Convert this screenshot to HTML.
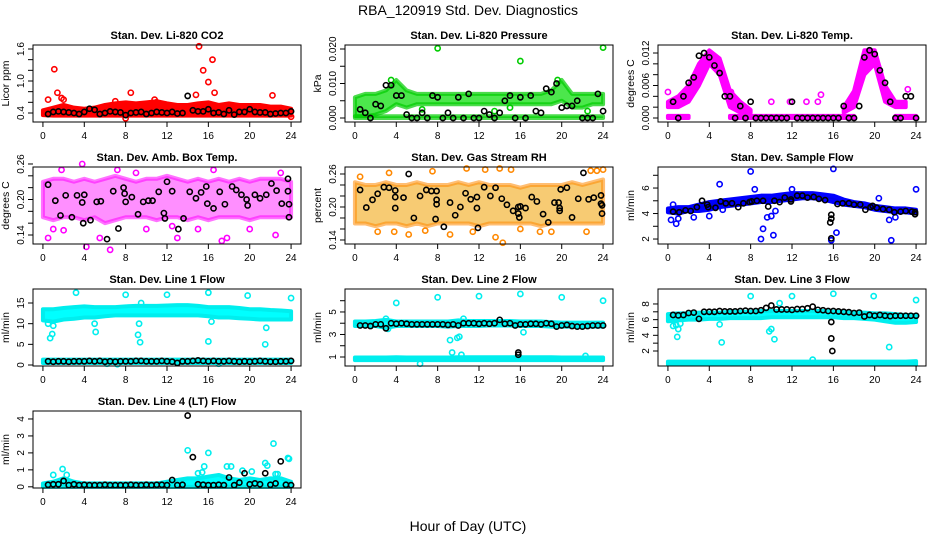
<!DOCTYPE html>
<html><head><meta charset="utf-8">
<style>
html,body{margin:0;padding:0;background:#fff;}
svg{display:block;font-family:"Liberation Sans",sans-serif;}
</style></head>
<body>
<svg id="chart" width="936" height="540" viewBox="0 0 936 540" xmlns="http://www.w3.org/2000/svg">
<rect x="0" y="0" width="936" height="540" fill="#fff"/>
<text x="468" y="15" text-anchor="middle" font-size="14">RBA_120919  Std. Dev. Diagnostics</text>
<text x="468" y="531" text-anchor="middle" font-size="14">Hour of Day (UTC)</text>
</svg>
<script>
const HOURS=[0,1,2,3,4,5,6,7,8,9,10,11,12,13,14,15,16,17,18,19,20,21,22,23,24];
const BH=[0.5,1,1.5,2,2.5,3,3.5,4,4.5,5,5.5,6,6.5,7,7.5,8,8.5,9,9.5,10,10.5,11,11.5,12,12.5,13,13.5,14,14.5,15,15.5,16,16.5,17,17.5,18,18.5,19,19.5,20,20.5,21,21.5,22,22.5,23,23.5,24];
const XTICKS=[0,4,8,12,16,20,24];

// P1 CO2
const co2Lo=[0.36,0.35,0.35,0.35,0.35,0.35,0.35,0.35,0.35,0.35,0.35,0.35,0.35,0.35,0.35,0.35,0.35,0.35,0.35,0.35,0.35,0.35,0.35,0.35,0.35];
const co2Hi=[0.45,0.5,0.55,0.5,0.48,0.5,0.55,0.58,0.6,0.58,0.6,0.62,0.58,0.55,0.55,0.58,0.6,0.55,0.58,0.55,0.55,0.55,0.52,0.52,0.48];
const co2ExX=[0.5,1.1,1.4,1.8,2.0,8.5,10.8,14.8,15.1,15.5,16.0,16.4,16.6,22.2,8.0,24.0,7.0,11.0];
const co2ExY=[0.65,1.22,0.78,0.68,0.65,0.78,0.65,0.74,1.65,1.2,0.98,1.4,0.78,0.73,0.3,0.33,0.62,0.6];
const co2BY=[0.38,0.42,0.43,0.42,0.41,0.40,0.38,0.42,0.48,0.46,0.38,0.40,0.43,0.42,0.41,0.36,0.40,0.41,0.42,0.38,0.40,0.42,0.41,0.40,0.42,0.39,0.40,0.72,0.45,0.43,0.43,0.47,0.40,0.41,0.38,0.45,0.37,0.42,0.42,0.47,0.42,0.41,0.41,0.38,0.39,0.40,0.40,0.43];

// P2 Pressure
const presBaseLo=[0,0,0,0,0,0,0,0,0,0,0,0,0,0,0,0,0,0,0,0,0,0,0,0,0];
const presBaseHi=[0.0005,0.0005,0.0005,0.0005,0.0005,0.0005,0.0005,0.0005,0.0005,0.0005,0.0005,0.0005,0.0005,0.0005,0.0005,0.0005,0.0005,0.0005,0.0005,0.0005,0.0005,0.0005,0.0005,0.0005,0.0005];
const presLo=[0.0005,0.0005,0.001,0.002,0.004,0.003,0.004,0.004,0.004,0.004,0.004,0.004,0.004,0.004,0.004,0.004,0.004,0.004,0.004,0.004,0.005,0.003,0.003,0.004,0.004];
const presHi=[0.006,0.007,0.007,0.008,0.011,0.008,0.007,0.007,0.007,0.007,0.007,0.007,0.007,0.007,0.007,0.007,0.007,0.007,0.007,0.008,0.011,0.007,0.007,0.007,0.007];
const presExX=[8.0,16.0,24.0,3.5,19.6,6.5,13.5,15.0,22.5];
const presExY=[0.0202,0.0165,0.0204,0.011,0.011,0.0025,0.002,0.003,0.002];
const presBY=[0.0025,0.0015,0,0.004,0.0035,0.0095,0.0095,0.0065,0.0065,0.001,0,0,0.0015,0,0.0065,0.006,0,0.0015,0,0.006,0,0.007,0,0,0.002,0.001,0,0.0015,0.005,0.0065,0,0.006,0,0.0065,0.002,0.0015,0.0085,0.0075,0.01,0.003,0.0035,0.0035,0.005,0,0,0,0.007,0.002];

// P3 Li-820 Temp
const tmpBaseLo=[0,0,0,null,null,null,0,0,0,0,0,0,0,0,0,0,0,0,0,null,null,null,0,0,0];
const tmpBaseHi=[0.0004,0.0004,0.0004,null,null,null,0.0004,0.0004,0.0004,0.0004,0.0004,0.0004,0.0004,0.0004,0.0004,0.0004,0.0004,0.0004,0.0004,null,null,null,0.0004,0.0004,0.0004];
const tmpLo=[0.002,0.002,0.003,0.006,0.010,0.008,0.002,0.001,0.001,null,null,null,null,null,null,null,null,0.001,0.002,0.008,0.010,0.003,0.002,0.002,null];
const tmpHi=[0.003,0.004,0.006,0.010,0.0125,0.011,0.005,0.003,0.0015,null,null,null,null,null,null,null,null,0.002,0.005,0.0125,0.0125,0.006,0.003,0.003,null];
const tmpExX=[0.0,23.2,14.8,14.5,10.0,11.8,13.4,6.1];
const tmpExY=[0.0048,0.0053,0.0043,0.003,0.003,0.003,0.003,0.0048];
const tmpBY=[0.003,0,0.004,0.0065,0.0075,0.0115,0.012,0.0112,0.0097,0.0083,0.004,0.004,0,0.0022,0,0.003,0,0,0,0,0,0,0,0.003,0,0,0,0,0,0,0,0,0,0.0022,0,0,0.0022,0.0112,0.0125,0.0118,0.0088,0.0065,0.003,0,0,0.004,0.004,0];

// P4 Amb box temp
const ambLo=[0.17,0.165,0.17,0.17,0.165,0.17,0.16,0.165,0.17,0.17,0.17,0.165,0.17,0.17,0.165,0.17,0.165,0.17,0.17,0.17,0.165,0.17,0.17,0.17,0.17];
const ambHi=[0.23,0.235,0.235,0.23,0.235,0.23,0.235,0.24,0.235,0.23,0.235,0.235,0.24,0.235,0.23,0.235,0.23,0.235,0.23,0.235,0.23,0.235,0.235,0.235,0.23];
const ambExX=[0.5,1.8,4.2,5.5,6.5,7.2,10.0,13.0,15.0,17.3,17.8,16.5,23.0,3.8,1.0,20.0,22.5,2.0,9.0,12.5];
const ambExY=[0.135,0.25,0.12,0.135,0.115,0.25,0.15,0.135,0.15,0.13,0.135,0.25,0.245,0.26,0.15,0.15,0.14,0.148,0.245,0.155];
const ambBX=[0.5,1.2,1.7,2.2,2.8,3.3,3.8,3.9,4.0,4.6,5.2,5.6,6.2,6.8,7.3,7.8,7.9,8.0,8.6,9.2,9.7,10.2,10.6,11.2,11.7,11.8,12.0,12.5,13.1,13.6,14.2,14.8,15.3,15.8,15.9,16.5,17.1,17.6,18.3,18.7,19.2,19.7,19.8,20.5,21.0,21.6,22.1,22.6,23.1,23.7,23.7,23.8,23.8];
const ambBY=[0.225,0.198,0.173,0.207,0.170,0.207,0.195,0.160,0.208,0.165,0.196,0.197,0.133,0.214,0.151,0.220,0.21,0.196,0.204,0.175,0.196,0.198,0.198,0.213,0.177,0.168,0.23,0.214,0.15,0.168,0.213,0.202,0.212,0.222,0.193,0.185,0.213,0.192,0.222,0.216,0.208,0.2,0.19,0.208,0.202,0.208,0.227,0.215,0.193,0.235,0.214,0.192,0.17];

// P5 Gas stream RH
const rhLo=[0.17,0.17,0.165,0.17,0.17,0.165,0.17,0.165,0.17,0.17,0.17,0.17,0.165,0.17,0.17,0.17,0.17,0.17,0.165,0.17,0.17,0.17,0.17,0.17,0.17];
const rhHi=[0.245,0.24,0.24,0.245,0.24,0.24,0.245,0.24,0.24,0.24,0.245,0.24,0.245,0.24,0.24,0.24,0.235,0.24,0.24,0.24,0.24,0.245,0.24,0.245,0.25];
const rhExX=[2.2,3.3,3.8,5.2,7.5,9.2,10.8,11.4,12.6,13.6,14.0,14.3,15.1,16.0,17.9,22.4,22.8,23.4,24.0,0.5,6.8,19.0];
const rhExY=[0.155,0.262,0.155,0.15,0.265,0.15,0.27,0.155,0.268,0.145,0.27,0.135,0.268,0.16,0.155,0.155,0.266,0.266,0.268,0.255,0.157,0.155];
const rhBX=[0.5,1.1,1.7,2.2,2.8,3.3,3.9,3.9,3.9,4.7,5.2,5.7,6.3,6.9,7.4,7.9,7.9,7.9,7.8,8.6,9.2,9.7,10.2,10.7,11.2,11.8,11.8,11.9,12.5,13.1,13.6,14.2,14.7,15.3,15.8,15.8,15.9,16.0,16.5,17.1,17.6,18.2,18.7,19.3,19.7,19.8,19.8,19.9,20.5,21.0,21.6,22.1,22.6,23.1,23.8,23.8,23.9,23.9];
const rhBY=[0.231,0.199,0.213,0.224,0.236,0.235,0.230,0.218,0.198,0.217,0.26,0.18,0.22,0.231,0.229,0.229,0.213,0.205,0.178,0.164,0.208,0.185,0.2,0.225,0.214,0.218,0.198,0.162,0.236,0.22,0.235,0.215,0.204,0.193,0.2,0.188,0.181,0.201,0.198,0.218,0.21,0.187,0.172,0.208,0.208,0.193,0.198,0.232,0.235,0.181,0.215,0.262,0.214,0.217,0.221,0.206,0.203,0.188];

// P6 Sample flow
const sfLo=[4.1,4.0,4.2,4.2,4.3,4.5,4.6,4.7,4.8,4.9,4.9,5.0,5.1,5.2,5.2,5.1,4.9,4.7,4.6,4.5,4.3,4.2,4.1,4.1,4.0];
const sfHi=[4.4,4.5,4.5,4.7,4.9,5.0,5.1,5.2,5.3,5.4,5.4,5.5,5.6,5.6,5.6,5.5,5.4,5.1,4.9,4.8,4.6,4.5,4.4,4.4,4.3];
const sfExX=[0.3,0.8,1.0,2.5,4.0,5.0,5.3,8.0,8.4,9.0,9.2,9.6,10.0,10.2,10.4,12.0,15.8,16.0,16.3,20.4,21.4,21.6,22.0,24.0,0.5];
const sfExY=[3.5,3.2,3.6,3.7,3.8,6.3,4.3,7.3,5.9,2.0,2.8,3.7,3.8,2.3,4.2,5.9,1.9,7.5,2.5,5.2,3.5,1.9,3.7,5.9,4.7];
const sfBX=[0.5,1.1,1.7,2.2,2.8,3.3,3.8,3.9,4.6,5.1,5.6,6.2,6.8,7.3,7.9,8.1,8.6,9.2,9.7,10.3,10.8,11.3,11.9,11.9,12.5,13.0,13.5,14.1,14.6,15.2,15.8,15.8,15.7,15.8,16.4,16.9,17.5,18.0,18.6,19.1,19.6,19.8,20.2,20.8,21.4,21.9,22.5,23.0,23.6,23.9,23.9];
const sfBY=[4.15,4.1,4.25,4.2,4.5,5.0,4.7,4.5,4.45,4.95,4.8,4.8,4.5,4.8,4.9,4.95,5.0,5.0,4.55,5.0,4.9,5.25,5.1,4.95,5.4,5.4,5.25,5.3,5.15,5.05,3.9,3.6,3.3,2.05,4.75,4.8,4.8,4.7,4.7,4.3,4.5,4.6,4.45,4.35,4.3,4.1,4.15,4.2,4.15,4.1,3.95];

// P7 Line 1 flow
const l1Lo=[10.8,10.5,11,11.2,11.5,11.5,11.8,12,12,12,12,12,12,12,12,12,11.8,11.5,11.5,11.3,11.2,11,11,11,11];
const l1Hi=[13.5,13.5,13.8,14,14.2,14,14,14,14.2,14.3,14.3,14.3,14.4,14.5,14.5,14.3,14,14,14,13.8,13.5,13.5,13.3,13.2,13];
const l1BaseLo=[0.5,0.5,0.5,0.5,0.5,0.5,0.5,0.5,0.5,0.5,0.5,0.5,0.5,0.5,0.5,0.5,0.5,0.5,0.5,0.5,0.5,0.5,0.5,0.5,0.5];
const l1BaseHi=[1.3,1.3,1.3,1.3,1.3,1.3,1.3,1.3,1.3,1.3,1.3,1.3,1.3,1.3,1.3,1.3,1.3,1.3,1.3,1.3,1.3,1.3,1.3,1.3,1.3];
const l1ExX=[0.5,0.7,0.9,1.0,3.2,5.0,5.1,8.0,9.2,9.3,9.4,9.5,12.0,16.0,16.0,16.3,19.8,21.5,21.6,24.0,7.2,17.0,6.2];
const l1ExY=[10,6.5,7.5,9.5,17.5,10,8,17,7.3,10,5.5,15,17,17.5,5.7,10.5,16.8,5,9,16.2,0.2,0.3,0.3];
const l1BY=[0.9,0.8,0.9,0.9,0.8,0.9,0.9,0.9,1.0,0.9,1.0,0.8,0.9,0.8,0.9,0.9,0.9,1.0,1.0,0.9,0.9,0.9,1.0,0.9,0.8,0.5,0.9,0.9,1.0,1.1,1.0,0.9,1.0,0.9,0.9,1.0,0.9,0.8,0.9,0.8,0.9,1.0,0.9,0.8,0.8,0.9,0.9,1.0];

// P8 Line 2 flow
const l2Lo=[3.75,3.75,3.75,3.6,3.75,3.75,3.75,3.75,3.75,3.7,3.75,3.75,3.75,3.8,3.8,3.8,3.75,3.75,3.75,3.7,3.7,3.7,3.7,3.7,3.7];
const l2Hi=[4.15,4.15,4.2,4.3,4.15,4.15,4.15,4.15,4.15,4.15,4.25,4.2,4.2,4.2,4.2,4.2,4.15,4.15,4.15,4.1,4.05,4.05,4.05,4.05,4.05];
const l2BaseLo=[0.72,0.72,0.72,0.72,0.72,0.72,0.72,0.72,0.72,0.72,0.72,0.72,0.72,0.72,0.72,0.72,0.72,0.72,0.72,0.72,0.72,0.72,0.72,0.72,0.72];
const l2BaseHi=[0.95,0.95,0.95,0.95,0.98,0.95,0.95,0.95,0.95,0.95,0.98,0.98,0.98,0.98,0.98,0.98,0.98,0.98,0.98,0.98,0.95,0.95,0.95,0.95,0.95];
const l2ExX=[4,8,12,16,20,24,9.2,9.9,10.1,16.3,9.4,10.3,6.3,22.3,3.2,3.0,10.5];
const l2ExY=[5.8,6.3,6.4,6.6,6.3,6.0,2.5,2.7,2.8,3.2,1.4,1.2,0.4,1.1,3.5,4.4,4.4];
const l2BX=BH.concat([15.8,15.8]);
const l2BY=[3.8,3.8,3.75,3.9,3.9,3.55,4.0,3.95,4.0,3.95,3.9,3.9,3.9,3.9,3.9,3.9,3.9,3.85,3.9,3.8,4.0,4.0,4.0,3.95,4.0,3.95,4.0,4.3,3.95,4.0,3.8,3.9,3.9,3.95,3.95,3.9,4.0,3.95,3.7,3.8,3.85,3.75,3.7,3.7,3.75,3.8,3.8,3.8,1.4,1.2];

// P9 Line 3 flow
const l3Lo=[5.8,5.9,6.0,6.0,6.1,6.1,6.2,6.2,6.2,6.2,6.3,6.3,6.3,6.3,6.3,6.3,6.3,6.2,6.2,6.1,6.0,5.8,5.6,5.6,5.7];
const l3Hi=[6.7,6.8,6.8,6.9,6.9,6.9,7.0,7.0,7.0,7.1,7.1,7.1,7.1,7.1,7.1,7.1,7.0,7.0,6.9,6.9,6.8,6.8,6.7,6.6,6.6];
const l3BaseLo=[0.3,0.3,0.3,0.3,0.3,0.3,0.3,0.3,0.3,0.3,0.3,0.3,0.3,0.3,0.3,0.3,0.3,0.3,0.3,0.3,0.3,0.3,0.3,0.3,0.3];
const l3BaseHi=[0.65,0.65,0.65,0.65,0.65,0.65,0.65,0.65,0.65,0.65,0.65,0.65,0.65,0.65,0.65,0.65,0.65,0.65,0.65,0.65,0.65,0.65,0.65,0.65,0.7];
const l3ExX=[0.3,0.5,0.8,0.9,1.0,1.2,5.0,5.2,8.0,9.8,10.0,10.3,10.8,12.0,16.0,19.9,21.4,24.0,14.0];
const l3ExY=[6.0,5.2,5.3,3.8,4.8,5.5,5.4,3.1,9.0,4.5,4.8,3.5,8.1,9.0,9.3,9.0,2.5,8.5,0.9];
const l3BX=BH.concat([15.8,15.8,15.9]);
const l3BY=[6.6,6.55,6.6,6.85,6.9,6.1,7.0,7.0,7.0,7.1,7.05,7.05,7.05,7.1,7.15,7.1,7.1,7.2,7.5,7.8,7.3,7.3,7.3,7.25,7.35,7.35,7.45,7.65,7.25,7.2,7.1,7.1,7.05,7.0,6.95,6.85,6.9,6.4,6.6,6.5,6.6,6.5,6.45,6.5,6.5,6.5,6.5,6.5,5.7,3.6,2.0];

// P10 Line 4 flow
const l4Lo=[0,0,0,0,0,0,0,0,0,0,0,0,0,0,0,0,0,0,0,0,0,0,0,0,0];
const l4Hi=[0.2,0.3,0.5,0.3,0.2,0.2,0.2,0.2,0.2,0.2,0.2,0.2,0.3,0.4,0.5,0.5,0.6,0.7,0.5,0.4,0.5,0.4,0.5,0.5,0.3];
const l4ExX=[1.0,1.9,2.3,14.0,15.6,15.0,15.4,16.0,17.8,18.2,19.3,20.2,21.5,21.7,22.3,22.5,22.7,23.7,23.8];
const l4ExY=[0.7,1.05,0.7,2.15,1.2,0.8,0.85,2.0,1.2,1.2,0.95,0.9,1.4,1.25,2.55,0.75,0.75,1.7,1.65];
const l4BY=[0.12,0.15,0.15,0.35,0.1,0.15,0.1,0.12,0.1,0.1,0.1,0.12,0.1,0.1,0.1,0.1,0.12,0.1,0.1,0.12,0.1,0.12,0.12,0.1,0.4,0.1,0.12,4.2,1.75,0.15,0.12,0.1,0.1,0.12,0.1,0.55,0.1,0.25,0.8,0.15,0.2,0.15,0.8,0.12,0.2,1.5,0.12,0.1];

const svg=document.getElementById('chart');
const NS='http://www.w3.org/2000/svg';
function mk(tag,attrs,parent){const e=document.createElementNS(NS,tag);for(const k in attrs)e.setAttribute(k,attrs[k]);(parent||svg).appendChild(e);return e;}

const COLL=[33,345,658], ROWT=[45,167,289,411], PW=268, PH=77;

const panels=[
 {id:'co2',title:'Stan. Dev. Li-820 CO2',yl:'Licor ppm',c:0,r:0,dom:[0.231,1.675],col:'#ff0000',fill:'#ff0000',op:1,bands:[[co2Lo,co2Hi]],ex:[co2ExX,co2ExY],bx:BH,by:co2BY,ticks:[0.4,0.6,0.8,1.0,1.2,1.4,1.6],labs:[0.4,1.0,1.6],fmt:v=>v.toFixed(1)},
 {id:'pressure',title:'Stan. Dev. Li-820 Pressure',yl:'kPa',c:1,r:0,dom:[-0.00116,0.02116],col:'#00cc00',fill:'#00dd00',op:0.7,bands:[[presBaseLo,presBaseHi],[presLo,presHi]],ex:[presExX,presExY],bx:BH,by:presBY,ticks:[0,0.005,0.01,0.015,0.02],labs:[0,0.01,0.02],fmt:v=>v.toFixed(3)},
 {id:'li820-temp',title:'Stan. Dev. Li-820 Temp.',yl:'degrees C',c:2,r:0,dom:[-0.00074,0.01348],col:'#ff00ff',fill:'#ff00ff',op:1,bands:[[tmpBaseLo,tmpBaseHi],[tmpLo,tmpHi]],ex:[tmpExX,tmpExY],bx:BH,by:tmpBY,ticks:[0,0.002,0.004,0.006,0.008,0.01,0.012],labs:[0,0.006,0.012],fmt:v=>v.toFixed(3)},
 {id:'amb-temp',title:'Stan. Dev. Amb. Box Temp.',yl:'degrees C',c:0,r:1,dom:[0.1248,0.2549],col:'#ff00ff',fill:'#ff33ff',op:0.55,bands:[[ambLo,ambHi]],ex:[ambExX,ambExY],bx:ambBX,by:ambBY,ticks:[0.14,0.16,0.18,0.2,0.22,0.24,0.26],labs:[0.14,0.2,0.26],fmt:v=>v.toFixed(2)},
 {id:'rh',title:'Stan. Dev. Gas Stream RH',yl:'percent',c:1,r:1,dom:[0.1327,0.2727],col:'#ff8800',fill:'#f0a000',op:0.55,bands:[[rhLo,rhHi]],ex:[rhExX,rhExY],bx:rhBX,by:rhBY,ticks:[0.14,0.16,0.18,0.2,0.22,0.24,0.26],labs:[0.14,0.2,0.26],fmt:v=>v.toFixed(2)},
 {id:'sample-flow',title:'Stan. Dev. Sample Flow',yl:'ml/min',c:2,r:1,dom:[1.61,7.65],col:'#0000ff',fill:'#0000ee',op:1,bands:[[sfLo,sfHi]],ex:[sfExX,sfExY],bx:sfBX,by:sfBY,ticks:[2,3,4,5,6,7],labs:[2,4,6],fmt:v=>String(v)},
 {id:'line1',title:'Stan. Dev. Line 1 Flow',yl:'ml/min',c:0,r:2,dom:[-0.24,18.39],col:'#00eeee',fill:'#00ffff',op:1,bands:[[l1Lo,l1Hi],[l1BaseLo,l1BaseHi]],ex:[l1ExX,l1ExY],bx:BH,by:l1BY,ticks:[0,5,10,15],labs:[0,5,10,15],fmt:v=>String(v)},
 {id:'line2',title:'Stan. Dev. Line 2 Flow',yl:'ml/min',c:1,r:2,dom:[0.2,7.04],col:'#00eeee',fill:'#00ffff',op:1,bands:[[l2Lo,l2Hi],[l2BaseLo,l2BaseHi]],ex:[l2ExX,l2ExY],bx:l2BX,by:l2BY,ticks:[1,2,3,4,5,6],labs:[1,3,5],fmt:v=>String(v)},
 {id:'line3',title:'Stan. Dev. Line 3 Flow',yl:'ml/min',c:2,r:2,dom:[0.085,9.91],col:'#00eeee',fill:'#00ffff',op:1,bands:[[l3Lo,l3Hi],[l3BaseLo,l3BaseHi]],ex:[l3ExX,l3ExY],bx:l3BX,by:l3BY,ticks:[2,3,4,5,6,7,8],labs:[2,4,6,8],fmt:v=>String(v)},
 {id:'line4',title:'Stan. Dev. Line 4 (LT) Flow',yl:'ml/min',c:0,r:3,dom:[-0.07,4.47],col:'#00eeee',fill:'#00ffff',op:1,bands:[[l4Lo,l4Hi]],ex:[l4ExX,l4ExY],bx:BH,by:l4BY,ticks:[0,1,2,3,4],labs:[0,1,2,3,4],fmt:v=>String(v)}
];

panels.forEach(p=>{
  const L=COLL[p.c], T=ROWT[p.r];
  const xs=h=>L+(h+0.96)/25.92*PW;
  const ys=v=>T+PH-(v-p.dom[0])/(p.dom[1]-p.dom[0])*PH;
  const g=mk('g',{});
  
  
  const t=mk('text',{x:L+PW/2,y:T-6,'text-anchor':'middle','font-size':'11','font-weight':'bold'},g);
  
  
  t.textContent=p.title;
  p.bands.forEach(b=>{
    const lo=b[0],hi=b[1];
    let seg=[];
    const flush=()=>{
      if(seg.length>=2){
        let pts=seg.map(i=>xs(HOURS[i])+','+ys(hi[i]));
        pts=pts.concat(seg.slice().reverse().map(i=>xs(HOURS[i])+','+ys(lo[i])));
        const pg=mk('polygon',{points:pts.join(' '),fill:p.fill,'fill-opacity':p.op,stroke:p.col,'stroke-opacity':p.op,'stroke-width':'4','stroke-linejoin':'round'},g);
        
        
      }
      seg=[];
    };
    HOURS.forEach((h,i)=>{ if(lo[i]===null||hi[i]===null){flush();} else seg.push(i); });
    flush();
  });
  p.ex[0].forEach((x,i)=>{
    const c=mk('circle',{cx:xs(x),cy:ys(p.ex[1][i]),r:2.6,fill:'none',stroke:p.col,'stroke-width':'1.6'},g);
    
    
  });
  const n=Math.min(p.bx.length,p.by.length);
  for(let i=0;i<n;i++){
    const c=mk('circle',{cx:xs(p.bx[i]),cy:ys(p.by[i]),r:2.6,fill:'none',stroke:'#000','stroke-width':'1.6'},g);
    
    
  }
  const bx=mk('rect',{x:L,y:T,width:PW,height:PH,fill:'none',stroke:'#000','stroke-width':'1'},g);
  
  
  const xa=mk('g',{},g);
  
  
  XTICKS.forEach(h=>{
    mk('line',{x1:xs(h),x2:xs(h),y1:T+PH,y2:T+PH+5,stroke:'#000'},xa);
    const tl=mk('text',{x:xs(h),y:T+PH+17,'text-anchor':'middle','font-size':'10'},xa);
    
    
    tl.textContent=String(h);
  });
  const ya=mk('g',{},g);
  
  
  p.ticks.forEach(v=>{
    mk('line',{x1:L-5,x2:L,y1:ys(v),y2:ys(v),stroke:'#000'},ya);
  });
  p.labs.forEach(v=>{
    const yy=ys(v), xx=L-9;
    const tl=mk('text',{x:xx,y:yy,'text-anchor':'middle','font-size':'10',transform:'rotate(-90 '+xx+' '+yy+')'},ya);
    
    
    tl.textContent=p.fmt(v);
  });
  const yx=L-24, yy=T+PH/2;
  const yt=mk('text',{x:yx,y:yy,'text-anchor':'middle','font-size':'10.5',transform:'rotate(-90 '+yx+' '+yy+')'},g);
  
  
  yt.textContent=p.yl;
});
</script>
</body></html>
